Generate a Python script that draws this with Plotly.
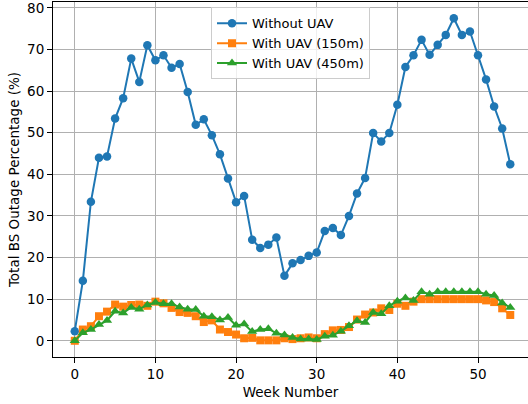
import plotly.graph_objects as go

weeks = list(range(55))
without_uav = [2.3, 14.4, 33.4, 44.0, 44.3, 53.4, 58.3, 67.8, 62.2, 71.0,
               67.4, 68.6, 65.6, 66.5, 59.8, 51.9, 53.2, 49.4, 44.8, 39.0,
               33.3, 34.8, 24.3, 22.3, 23.1, 24.8, 15.6, 18.6, 19.4, 20.4,
               21.2, 26.4, 27.1, 25.4, 30.0, 35.4, 39.1, 49.9, 47.9, 49.9,
               56.7, 65.8, 68.6, 72.3, 68.7, 71.1, 73.5, 77.5, 73.5, 74.3,
               68.6, 62.8, 56.3, 51.0, 42.4]
with_uav_150 = [0.0, 2.7, 3.5, 5.9, 7.0, 8.7, 8.2, 8.6, 8.7, 8.4,
                9.4, 9.0, 7.9, 6.9, 6.7, 5.9, 4.5, 4.9, 2.7, 2.1,
                1.5, 0.6, 0.7, 0.1, 0.1, 0.1, 0.6, 0.4, 0.6, 0.8,
                0.6, 1.6, 2.5, 2.6, 3.3, 5.1, 6.3, 6.8, 7.8, 7.4,
                8.9, 8.4, 9.4, 10.0, 10.0, 10.0, 10.0, 10.0, 10.0, 10.0,
                10.0, 9.7, 9.3, 7.8, 6.2]
with_uav_450 = [0.0, 1.9, 2.7, 3.9, 4.9, 7.1, 6.7, 8.0, 7.6, 8.6,
                9.2, 8.9, 8.9, 8.1, 7.6, 7.5, 5.9, 5.8, 5.0, 5.6,
                3.7, 4.0, 2.2, 2.7, 2.9, 1.8, 1.4, 0.8, 0.4, 0.4,
                0.3, 1.1, 1.3, 2.3, 3.6, 4.8, 4.4, 6.8, 6.5, 8.4,
                9.5, 10.3, 9.7, 11.8, 11.2, 11.8, 11.8, 11.8, 11.8, 11.8,
                11.8, 11.2, 10.9, 9.1, 8.0]
series_names = ["Without UAV", "With UAV (150m)", "With UAV (450m)"]
x_ticks = [0, 10, 20, 30, 40, 50]
y_ticks = [0, 10, 20, 30, 40, 50, 60, 70, 80]

FONT = "DejaVu Sans"
fig = go.Figure()
styles = [("#1f77b4", "circle", 8.5), ("#ff7f0e", "square", 8), ("#2ca02c", "triangle-up", 9)]
for name, ys, (col, sym, ms) in zip(series_names, [without_uav, with_uav_150, with_uav_450], styles):
    fig.add_trace(go.Scatter(
        x=weeks, y=ys, name=name, mode="lines+markers",
        line=dict(color=col, width=2),
        marker=dict(color=col, symbol=sym, size=ms, line=dict(width=0)),
    ))

axis_common = dict(
    showgrid=True, gridcolor="#b0b0b0", gridwidth=1,
    showline=True, linecolor="black", linewidth=1.1,
    ticks="outside", ticklen=5, tickwidth=1.1, tickcolor="black",
    zeroline=False, automargin=False, ticklabeloverflow="allow",
    tickfont=dict(family=FONT, size=13.5, color="black"),
)
fig.update_xaxes(range=[-2.7, 56.2], tickvals=x_ticks, mirror=True,
                 title=dict(text="Week Number", font=dict(family=FONT, size=13.5, color="black"), standoff=6),
                 **axis_common)
fig.update_yaxes(range=[-3.9, 81.4], tickvals=y_ticks,
                 title=dict(text="Total BS Outage Percentage (%)", font=dict(family=FONT, size=13.5, color="black"), standoff=4),
                 **axis_common)

fig.update_layout(
    width=528, height=404,
    margin=dict(l=53, r=0, t=2, b=47, autoexpand=False),
    plot_bgcolor="white", paper_bgcolor="white",
    font=dict(family=FONT, size=13.5, color="black"),
    legend=dict(x=0.5, xanchor="center", y=0.985, yanchor="top",
                bgcolor="rgba(255,255,255,0.8)", bordercolor="#cccccc", borderwidth=1,
                font=dict(family=FONT, size=13), tracegroupgap=0, itemwidth=30),
    showlegend=True,
)
fig.write_html("out.html", config={"displayModeBar": False},
               post_script="document.body.style.margin='0';")
